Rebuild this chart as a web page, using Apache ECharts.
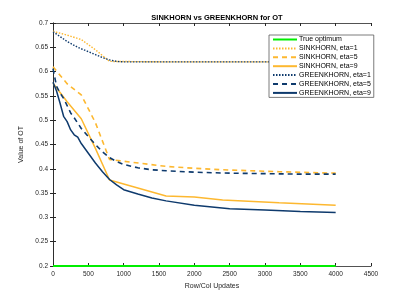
<!DOCTYPE html>
<html>
<head>
<meta charset="utf-8">
<script src="https://cdn.jsdelivr.net/npm/echarts@6/dist/echarts.min.js"></script>
<style>html,body{margin:0;padding:0;background:#fff}#c{width:409px;height:300px}</style>
</head>
<body>
<div id="c"></div>
<script>
var optX = [0, 4000];
var optY = [0.2, 0.2];

var skX = [0, 200, 400, 600, 800, 1600, 2000, 2400, 3200, 4000];
var sk1 = [0.683, 0.675, 0.666, 0.645, 0.621, 0.620, 0.620, 0.620, 0.620, 0.620];
var sk5 = [0.610, 0.575, 0.552, 0.495, 0.419, 0.405, 0.401, 0.398, 0.394, 0.391];
var sk9 = [0.576, 0.538, 0.503, 0.442, 0.377, 0.344, 0.342, 0.336, 0.330, 0.325];

var gkX = [0, 50, 100, 150, 200, 250, 300, 350, 400, 500, 600, 700, 800, 900, 1000, 1200, 1400, 1600, 2000, 2500, 3000, 3500, 4000];
var gk1 = [0.682, 0.677, 0.672, 0.667, 0.662, 0.658, 0.654, 0.650, 0.647, 0.641, 0.635, 0.629, 0.624, 0.621, 0.620, 0.620, 0.620, 0.620, 0.620, 0.620, 0.620, 0.620, 0.620];
var gk5 = [0.606, 0.570, 0.556, 0.545, 0.530, 0.515, 0.505, 0.494, 0.483, 0.466, 0.450, 0.435, 0.423, 0.415, 0.409, 0.402, 0.398, 0.396, 0.393, 0.391, 0.390, 0.389, 0.389];
var gk9 = [0.578, 0.560, 0.535, 0.508, 0.497, 0.480, 0.470, 0.465, 0.452, 0.432, 0.412, 0.394, 0.378, 0.367, 0.357, 0.348, 0.340, 0.334, 0.325, 0.318, 0.315, 0.312, 0.310];

var names = ['True optimum','SINKHORN, eta=1','SINKHORN, eta=5','SINKHORN, eta=9','GREENKHORN, eta=1','GREENKHORN, eta=5','GREENKHORN, eta=9'];
var ORANGE = '#FDB830', BLUE = '#0E3A6D', GREEN = '#00EE00';

function pairs(xs, ys){ return xs.map(function(x,i){ return [x, ys[i]]; }); }
function mk(name, xs, ys, color, type, width){
  return { name: name, type: 'line', data: pairs(xs, ys), symbol: 'none', animation: false,
    lineStyle: { color: color, type: type, width: width }, itemStyle: { color: color } };
}
var axColor = '#262626';
var chart = echarts.init(document.getElementById('c'));
chart.setOption({
  backgroundColor: '#fff',
  animation: false,
  title: { text: 'SINKHORN vs GREENKHORN for OT', left: 212, top: 9, textAlign: 'center',
    textStyle: { fontFamily: 'Liberation Sans', fontSize: 7.5, fontWeight: 'bold', color: '#000' } },
  grid: { left: 53, right: 38, top: 23, bottom: 34 },
  legend: {
    orient: 'vertical', left: 269, top: 35, itemWidth: 24, itemHeight: 6, itemGap: 1.9,
    padding: [1, 3, 1, 3], backgroundColor: '#fff', borderColor: '#5a5a5a', borderWidth: 0.8,
    itemStyle: { opacity: 0 },
    textStyle: { fontFamily: 'Liberation Sans', fontSize: 7, lineHeight: 6, color: '#000', padding: [0,0,0,-3] },
    data: names
  },
  xAxis: [
    { type: 'value', min: 0, max: 4500, interval: 500, name: 'Row/Col Updates', nameLocation: 'middle', nameGap: 16,
      nameTextStyle: { fontFamily: 'Liberation Sans', fontSize: 7, color: axColor },
      axisLine: { lineStyle: { color: axColor, width: 0.8 } },
      axisTick: { inside: true, length: 3, lineStyle: { color: axColor } },
      axisLabel: { fontFamily: 'Liberation Sans', fontSize: 6.5, color: axColor, margin: 5,
        formatter: function(v){ return String(v); } },
      splitLine: { show: false } },
    { type: 'value', position: 'top', min: 0, max: 4500, interval: 500,
      axisLine: { show: true, lineStyle: { color: axColor, width: 0.8 } },
      axisTick: { inside: true, length: 3, lineStyle: { color: axColor } },
      axisLabel: { show: false }, splitLine: { show: false } }
  ],
  yAxis: [
    { type: 'value', min: 0.2, max: 0.7, interval: 0.05, name: 'Value of OT', nameLocation: 'middle', nameGap: 24,
      nameTextStyle: { fontFamily: 'Liberation Sans', fontSize: 7, color: axColor },
      axisLine: { show: true, lineStyle: { color: axColor, width: 0.8 } },
      axisTick: { show: true, inside: true, length: 3, lineStyle: { color: axColor } },
      axisLabel: { fontFamily: 'Liberation Sans', fontSize: 6.5, color: axColor, margin: 5,
        formatter: function(v){ return String(Math.round(v*100)/100); } },
      splitLine: { show: false } },
    { type: 'value', position: 'right', min: 0.2, max: 0.7, interval: 0.05,
      axisLine: { show: true, lineStyle: { color: axColor, width: 0.8 } },
      axisTick: { show: true, inside: true, length: 3, lineStyle: { color: axColor } },
      axisLabel: { show: false }, splitLine: { show: false } }
  ],
  series: [
    mk(names[0], optX, optY, GREEN, 'solid', 2.2),
    mk(names[1], skX, sk1, ORANGE, [1.5, 1.5], 1.4),
    mk(names[2], skX, sk5, ORANGE, [5, 4], 1.6),
    mk(names[3], skX, sk9, ORANGE, 'solid', 1.5),
    mk(names[4], gkX, gk1, BLUE, [1.5, 1.5], 1.4),
    mk(names[5], gkX, gk5, BLUE, [5, 4], 1.6),
    mk(names[6], gkX, gk9, BLUE, 'solid', 1.5)
  ]
});
</script>
</body>
</html>
